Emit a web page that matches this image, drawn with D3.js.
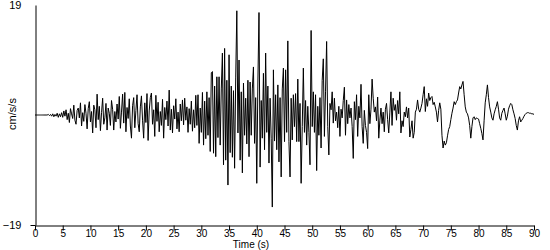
<!DOCTYPE html>
<html>
<head>
<meta charset="utf-8">
<script src="https://cdn.jsdelivr.net/npm/d3@7"></script>
<style>
  html, body { margin: 0; padding: 0; background: #fff; }
  svg { display: block; }
  text { font-family: 'Liberation Sans', Arial, sans-serif; fill: #000; }
</style>
</head>
<body>
<svg id="chart" width="550" height="250"></svg>
<script>
const sampleStep = 0.2
const accel = [
  0, 0, 0, 0, 0,
  0, 0, 0, 0, 0,
  0, 0, 0.1, -0.1, 0.1,
  -0.2, 0.2, -0.3, 0.1, -0.2,
  0.3, -0.4, 0.2, -0.3, 0.4,
  -0.4, 0.7, -0.2, 0.9, -0.8,
  0.3, -1.3, 1.1, 0.2, -0.6,
  1.7, -0.9, -1.6, 0.8, 1.2,
  -0.5, 2.1, -1.9, 0.4, -1.1,
  1.8, 0.3, -2.4, 1.1, 2.3,
  -1.2, 0.6, -3.1, 1.7, 0.9,          // 10 s
  -2.2, 3.6, -0.8, 1.5, -2.7,
  0.4, 2.9, -1.6, -0.5, 2.0,
  -2.6, 1.2, 0.3, -1.8, 2.5,
  1.0, -2.6, 0.6, -1.2, 1.9,
  -0.7, 3.2, -2.3, 0.5, 3.6,
  -1.4, 3.9, -2.9, 1.3, -0.6,
  2.8, -1.9, -4.0, 1.6, 3.0,
  -2.2, 0.8, 3.5, -1.5, -2.9,
  1.4, 3.3, -0.9, -4.0, 2.1,
  -1.3, 3.7, -4.4, 0.7, 3.0,          // 20 s
  3.8, -1.6, 0.9, -3.7, 3.4,
  -1.1, 2.2, -2.9, 0.6, -1.8,
  2.7, -4.0, 1.3, -0.8, 2.4,
  -1.9, 4.3, -2.6, 1.0, -3.1,
  1.6, -0.7, 2.8, -2.4, 0.5,
  -2.9, 1.9, -1.0, 2.6, -1.7,
  2.9, -0.9, 1.4, -3.0, 1.1,
  -1.6, 2.4, -2.8, 0.9, -2.2,
  3.4, -1.8, 3.5, -4.9, 1.2,
  -3.0, 3.9, -5.2, 2.4, -4.1,         // 30 s
  4.0, -3.5, 3.0, -6.3, 7.3,
  7.5, -6.6, 5.0, -7.2, 6.6,
  -3.9, 6.6, -5.2, 4.5, 10.7,
  -8.6, 11.5, -7.8, 6.0, -12.1,
  10.4, -6.5, 5.0, -7.3, 4.2,
  -9.2, 6.4, 18.0, -3.1, 9.5,
  -7.8, 4.0, -10.0, 5.5, -3.5,
  2.9, -5.0, 6.0, -7.2, 5.7,
  -3.5, 4.5, 8.3, -4.9, 3.0,
  -11.8, 5.7, 17.7, -9.0, 2.5,        // 40 s
  -4.0, 7.2, -6.0, 10.7, -3.0,
  5.0, -8.3, 2.9, -4.0, -15.9,
  7.8, -4.5, 3.5, -6.0, 5.2,
  -8.1, 3.0, -10.7, 4.5, 8.1,
  -4.6, 7.8, -3.0, 12.8, -4.6,
  -10.7, 2.9, -4.3, 3.5, -2.0,
  3.7, -4.6, 6.2, -4.6, 2.0,
  -11.8, -2.0, 8.1, -3.0, 2.5,
  -5.2, 1.5, -3.0, -8.6, 14.6,
  -2.0, 4.0, -3.0, 3.5, -9.6,         // 50 s
  1.5, -3.5, 3.0, -5.7, 6.0,
  9.7, -3.7, 4.0, 12.7, -2.0,
  -6.9, 2.0, 0.9, 4.0, -1.4,
  2.9, -1.0, 0.5, -2.2, 1.5,
  -3.7, 1.0, -0.5, 2.5, 4.8,
  -3.5, 2.6, -1.5, 1.8, -0.5,
  1.2, -2.0, -7.5, 2.3, -0.8,
  3.5, -3.7, 1.5, -0.5, 5.3,
  -2.0, -4.9, 0.8, -1.8, -3.0,
  -5.8, 3.5, -1.5, 1.0, 6.2,          // 60 s
  2.9, 0.5, 1.4, -1.0, 3.1,
  -4.0, -0.9, 1.2, -1.5, 0.5,
  -2.9, 1.0, 2.0, -0.8, -3.1,
  0.5, 4.0, -1.8, 2.9, 0.8,
  1.8, -0.9, 2.5, 0.2, 4.0,
  -3.1, -1.0, -2.0, 0.5, -0.3,
  1.4, -0.5, 1.2, -3.8, -2.5,
  -1.0, -4.0, -3.0, 0.5, 1.0,
  2.6, 1.0, 0.5, 1.2, 2.0,
  3.5, 4.9, 0.6, 2.8, 1.5,            // 70 s
  3.8, 2.5, 3.0, 3.2, 1.8,
  2.2, 1.4, 0.5, -1.2, 0.8,
  2.1, 1.0, -3.5, -5.7, -4.5,
  -5.2, -4.8, -3.6, -2.5, -2.0,
  -0.8, 0.3, 1.2, 2.3, 1.8,
  2.3, 2.6, 3.8, 4.9, 4.5,
  5.2, 5.8, 3.5, 1.4, 0.5,
  0.2, -0.5, -1.8, -4.0, -2.0,
  -0.5, -0.3, -0.8, -0.5, -0.6,
  -0.7, -1.5, -2.3, -3.2, -4.3,       // 80 s
  -1.0, 2.1, 3.5, 5.2, 3.0,
  1.4, 0.5, -0.5, -0.9, 0.2,
  0.9, 1.5, 2.3, 1.0, -0.5,
  -0.9, 0.3, 0.8, 1.2, 0.2,
  -0.9, -0.2, 1.0, 1.6, 2.0,
  1.8, 0.9, 0.2, -0.6, -1.8,
  -2.6, -1.0, -0.3, -1.2, -0.9,
  -0.6, -0.2, 0.1, 0.3, 0.4,
  0.4, 0.3, 0.3, 0.2, 0.2,
  0.1                                  // 90 s
]

const timeTicks = [0, 5, 10, 15, 20, 25, 30, 35, 40, 45, 50, 55, 60, 65, 70, 75, 80, 85, 90]
const accelTicks = [-19, 19]
const timeLabel = 'Time (s)'
const accelLabel = 'cm/s/s'

const svg = d3.select('#chart')

const x = d3.scaleLinear().domain([0, 90]).range([35, 534])
const y = d3.scaleLinear().domain([-19, 19]).range([225, 5])

// trace
const line = d3.line()
  .x((d, i) => x(i * sampleStep))
  .y(d => y(d))

svg.append('path')
  .datum(accel)
  .attr('d', line)
  .attr('fill', 'none')
  .attr('stroke', '#000')
  .attr('stroke-width', 1)

// x axis
const xAxis = svg.append('g')
  .attr('transform', `translate(0, ${y(-19) + 0.5})`)
  .call(d3.axisBottom(x).tickValues(timeTicks).tickSize(5).tickSizeOuter(0))

xAxis.selectAll('.tick text')
  .attr('y', 11)
  .attr('dy', null)
  .style('font-size', '10px')

// y axis
const yAxis = svg.append('g')
  .attr('transform', `translate(${x(0) + 0.5}, 0)`)
  .call(d3.axisLeft(y).tickValues(accelTicks).tickSize(5).tickPadding(9).tickSizeOuter(0))

yAxis.selectAll('.tick')
  .filter(d => d === 19)
  .select('line')
  .remove()

yAxis.selectAll('.tick text').style('font-size', '11px')

svg.selectAll('.domain, .tick line').attr('stroke', '#000')
svg.selectAll('.tick text')
  .attr('font-family', null)
  .style('fill', '#000')

// axis titles
svg.append('text')
  .attr('x', 251)
  .attr('y', 247.8)
  .attr('text-anchor', 'middle')
  .style('font-size', '10px')
  .text(timeLabel)

svg.append('text')
  .attr('transform', 'translate(16, 114) rotate(-90)')
  .attr('text-anchor', 'middle')
  .style('font-size', '11px')
  .text(accelLabel)
</script>
</body>
</html>
